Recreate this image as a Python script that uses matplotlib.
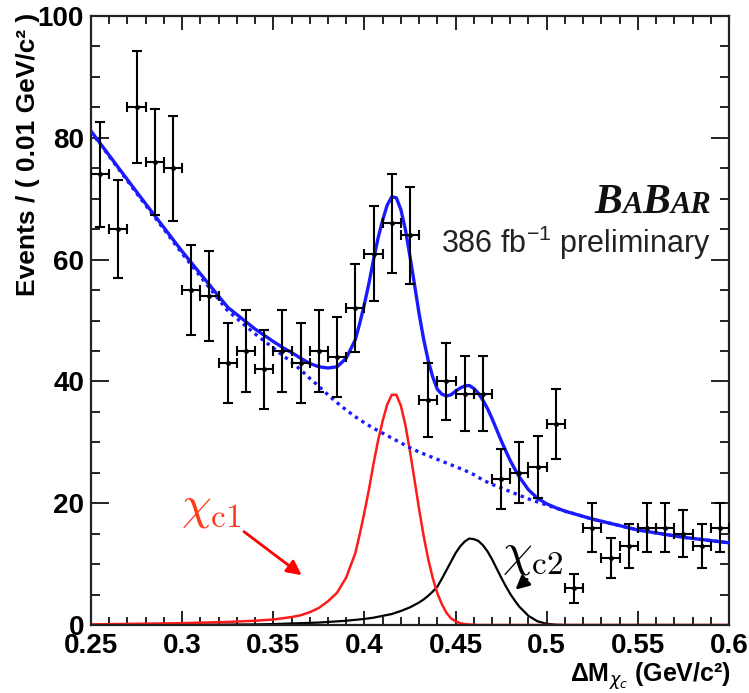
import numpy as np
import matplotlib
matplotlib.use("Agg")
import matplotlib.pyplot as plt
from matplotlib.ticker import MultipleLocator, FormatStrFormatter
from matplotlib.offsetbox import TextArea, HPacker, AnchoredOffsetbox

# ---------------- data ----------------
bin_centers = [0.255, 0.265, 0.275, 0.285, 0.295, 0.305, 0.315, 0.325, 0.335, 0.345,
               0.355, 0.365, 0.375, 0.385, 0.395, 0.405, 0.415, 0.425, 0.435, 0.445,
               0.455, 0.465, 0.475, 0.485, 0.495, 0.505, 0.515, 0.525, 0.535, 0.545,
               0.555, 0.565, 0.575, 0.585, 0.595]
counts = [74, 65, 85, 76, 75, 55, 54, 43, 45, 42,
          45, 43, 45, 44, 52, 61, 66, 64, 37, 40,
          38, 38, 24, 25, 26, 33, 6, 16, 11, 13,
          16, 16, 15, 13, 16]
bin_half_width = 0.005

# fit curves
fit_x = [0.25, 0.275, 0.30, 0.325, 0.34, 0.35, 0.355, 0.36, 0.365, 0.37,
         0.375, 0.38, 0.385, 0.39, 0.395,
         0.3975, 0.40, 0.4025, 0.405, 0.4075, 0.41, 0.4125, 0.415, 0.4175, 0.42,
         0.4225, 0.425, 0.4275, 0.43, 0.4325, 0.435, 0.4375, 0.44, 0.4425, 0.445,
         0.4475, 0.45, 0.4525, 0.455, 0.4575, 0.46, 0.4625, 0.465, 0.4675, 0.47,
         0.4725, 0.475, 0.4775, 0.48, 0.4825, 0.485,
         0.49, 0.495, 0.50, 0.505, 0.51, 0.525, 0.55, 0.575, 0.60]
background = [81.0, 70.9, 61.0, 51.6, 47.8, 45.5, 44.3, 43.2, 41.9, 40.5,
              39.2, 37.8, 36.5, 35.3, 34.2,
              33.7, 33.2, 32.75, 32.3, 31.9, 31.5, 31.1, 30.7, 30.3, 29.9,
              29.5, 29.1, 28.75, 28.4, 28.1, 27.8, 27.5, 27.2, 26.9, 26.6,
              26.3, 26.0, 25.7, 25.4, 25.05, 24.7, 24.25, 23.8, 23.45, 23.1,
              22.8, 22.5, 22.2, 21.9, 21.6, 21.3,
              20.7, 20.2, 19.7, 19.2, 18.7, 17.4, 15.6, 14.4, 13.5]
chi_c1 = [0.1, 0.2, 0.3, 0.5, 0.7, 0.9, 1.1, 1.3, 1.6, 2.1,
          2.8, 3.9, 5.3, 7.8, 11.8,
          15.0, 18.5, 22.3, 26.5, 30.3, 33.5, 36.2, 37.8, 37.8, 36.0,
          32.8, 28.5, 23.8, 19.0, 14.6, 10.8, 7.7, 5.2, 3.4, 2.0,
          1.1, 0.6, 0.3, 0.15, 0.08, 0.05, 0.0, 0.0, 0.0, 0.0,
          0.0, 0.0, 0.0, 0.0, 0.0, 0.0,
          0.0, 0.0, 0.0, 0.0, 0.0, 0.0, 0.0, 0.0, 0.0]
chi_c2 = [0.0, 0.02, 0.04, 0.07, 0.1, 0.15, 0.2, 0.25, 0.3, 0.35,
          0.4, 0.5, 0.6, 0.7, 0.85,
          0.92, 1.0, 1.1, 1.2, 1.35, 1.5, 1.65, 1.8, 2.05, 2.3,
          2.6, 2.9, 3.3, 3.7, 4.2, 4.8, 5.5, 6.3, 7.6, 9.0,
          10.4, 11.8, 12.9, 13.7, 14.2, 14.1, 13.8, 13.1, 12.1, 10.8,
          9.3, 7.8, 6.4, 5.1, 4.0, 3.0,
          1.5, 0.6, 0.2, 0.05, 0.0, 0.0, 0.0, 0.0, 0.0]

x_ticks = [0.25, 0.3, 0.35, 0.4, 0.45, 0.5, 0.55, 0.6]
y_ticks = [0, 20, 40, 60, 80, 100]

# ---------------- figure ----------------
fig = plt.figure(figsize=(7.49, 6.93), dpi=100)
ax = fig.add_axes([91/749, 1-625/693, (729-91)/749, (625-16)/693])

fx = np.array(fit_x)
bkg = np.array(background)
c1 = np.array(chi_c1)
c2 = np.array(chi_c2)
total = bkg + c1 + c2

blue = "#1a1aff"
ax.plot(fx, c2, color="black", lw=1.6, zorder=2)
ax.plot(fx, c1, color="#ff1a1a", lw=1.8, zorder=2)
ax.plot(fx, bkg, color=blue, lw=2.4, linestyle=(0, (1.0, 1.3)), zorder=3)
ax.plot(fx, total, color=blue, lw=2.4, zorder=3)

cnt = np.array(counts, dtype=float)
ax.errorbar(bin_centers, cnt, yerr=np.sqrt(cnt), xerr=bin_half_width,
            fmt="o", ms=2.5, color="black", ecolor="black", elinewidth=1.5,
            capsize=3.5, capthick=1.5, zorder=4)

ax.set_xlim(0.25, 0.6)
ax.set_ylim(0, 100)
ax.set_xticks(x_ticks)
ax.set_yticks(y_ticks)
ax.xaxis.set_minor_locator(MultipleLocator(0.01))
ax.yaxis.set_minor_locator(MultipleLocator(5))
ax.xaxis.set_major_formatter(FormatStrFormatter("%g"))
ax.tick_params(axis="both", which="both", direction="in", top=True, right=True,
               width=1.4, color="#222222")
ax.tick_params(axis="x", which="major", length=10, pad=6)
ax.tick_params(axis="x", which="minor", length=5.5)
ax.tick_params(axis="y", which="major", length=13, pad=5)
ax.tick_params(axis="y", which="minor", length=6.5)
for lab in ax.get_xticklabels() + ax.get_yticklabels():
    lab.set_fontfamily("Liberation Sans")
    lab.set_fontweight("bold")
    lab.set_fontsize(20)
for sp in ax.spines.values():
    sp.set_linewidth(1.6)
    sp.set_color("#222222")

# axis labels
fig.text(28/749, 1-13/693, "Events / ( 0.01 GeV/c² )", rotation=90,
         ha="center", va="top", fontsize=19, fontweight="bold",
         family="Liberation Sans")
fig.text(731/749, 1-682/693, r"ΔM$_{\chi_c}$ (GeV/c²)", ha="right", va="baseline",
         fontsize=18, fontweight="bold", family="Liberation Sans")

# BaBar logo
serif = dict(family="Liberation Serif", weight="bold", style="italic", color="#111111")
parts = [("B", 30), ("A", 22), ("B", 30), ("AR", 22)]
areas = [TextArea(t, textprops=dict(size=s, **serif)) for t, s in parts]
pack = HPacker(children=areas, align="baseline", pad=0, sep=0)
anch = AnchoredOffsetbox(loc="lower right", child=pack, pad=0, borderpad=0,
                         frameon=False, bbox_to_anchor=((711-91)/638, (625-222)/609),
                         bbox_transform=ax.transAxes)
ax.add_artist(anch)

ax.text((711-91)/638, (625-253)/609, r"386 fb$^{\mathregular{-1}}$ preliminary",
        transform=ax.transAxes, ha="right", va="baseline", fontsize=22,
        family="Liberation Sans", color="#222222")

# component labels
ax.text(0.2995, 17.5, r"$\chi_{\mathrm{c1}}$", color="#ff3a1a", fontsize=34,
        ha="left", va="baseline", math_fontfamily="cm")
ax.annotate("", xy=(0.3668, 7.9), xytext=(0.3327, 15.6),
            arrowprops=dict(arrowstyle="-|>", color="red", lw=2, mutation_scale=22))
ax.text(0.4755, 9.8, r"$\chi_{\mathrm{c2}}$", color="black", fontsize=34,
        ha="left", va="baseline", math_fontfamily="cm")
ax.annotate("", xy=(0.4817, 5.5), xytext=(0.4904, 7.8),
            arrowprops=dict(arrowstyle="-|>", color="black", lw=2, mutation_scale=20))

fig.savefig("out.png", dpi=100)
